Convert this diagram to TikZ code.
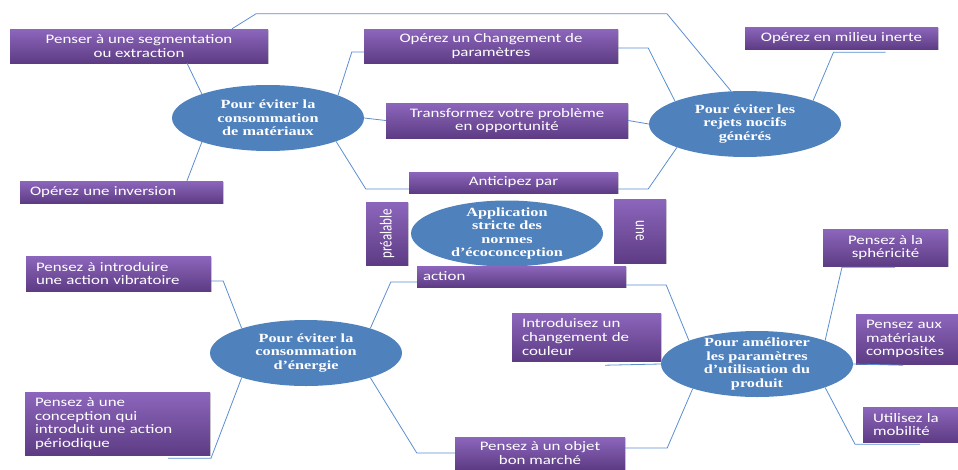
\documentclass[tikz,border=0pt]{standalone}
\usepackage{fontspec}
\usepackage{xcolor}
\usetikzlibrary{shapes.geometric, shadows}
\newfontfamily\boxfont{Carlito}[FakeStretch=1.3]
\newfontfamily\sidefont{Carlito}
\newfontfamily\themefont{Liberation Serif}[FakeStretch=1.3]
\definecolor{boxtop}{HTML}{8C66BC}
\definecolor{boxbot}{HTML}{5E3C84}
\definecolor{themeblue}{HTML}{4F81BD}
\definecolor{linkblue}{HTML}{5B8ED0}

\tikzset{
    idea/.style={rectangle, top color=boxtop, bottom color=boxbot, text=white,
        font=\boxfont\fontsize{13pt}{13.6pt}\selectfont, inner xsep=10pt, inner ysep=0pt,
        align=center, drop shadow={opacity=0.35, shadow xshift=1pt, shadow yshift=-1pt}},
    ideal/.style={idea, align=left},
    theme/.style={ellipse, fill=themeblue, text=white, minimum width=192pt, minimum height=66pt,
        inner sep=-5pt, align=center,
        font=\themefont\bfseries\fontsize{12.5pt}{13.5pt}\selectfont},
    link/.style={draw=linkblue, line width=0.8pt}
}

\begin{document}
\begin{tikzpicture}[x=1pt, y=-1pt]
\useasboundingbox (0,0) rectangle (958,469);

% ── themes ───────────────────────────────────────────────
\node[theme] (mat) at (268,118) {Pour éviter la\\consommation\\de matériaux};
\node[theme] (rej) at (745,124) {Pour éviter les\\rejets nocifs\\générés};
\node[theme] (app) at (507,233.5) {Application\\stricte des\\normes\\d’écoconception};
\node[theme] (ener) at (306,353) {Pour éviter la\\consommation\\d’énergie};
\node[theme] (util) at (757,364) {Pour améliorer\\les paramètres\\d’utilisation du\\produit};

% ── ideas, top ───────────────────────────────────────────
\node[idea, minimum width=258pt, minimum height=34pt] (seg) at (139,46) {Penser à une segmentation\\ou extraction};
\node[idea, minimum width=254pt, minimum height=34pt] (chg) at (491,46) {Opérez un Changement de\\paramètres};
\node[idea, minimum width=193pt, minimum height=22pt] (inerte) at (841.5,38) {Opérez en milieu inerte};
\node[idea, minimum width=242pt, minimum height=35pt] (transf) at (507,120.5) {Transformez votre problème\\en opportunité};
\node[ideal, text width=183pt, minimum height=22pt] (inv) at (121.5,192) {Opérez une inversion};

% ── ideas round the centre ───────────────────────────────
\node[idea, minimum width=209pt, minimum height=21pt] (antic) at (513.5,182.5) {Anticipez par};
\node[idea, minimum width=42pt, minimum height=63pt, inner xsep=0pt] (prea) at (387,233.5)
    {\rotatebox{90}{\scalebox{1}[1.3]{\sidefont préalable}}};
\node[idea, minimum width=52pt, minimum height=64pt, inner xsep=0pt] (une) at (640,231)
    {\rotatebox{-90}{\scalebox{1}[1.3]{\sidefont une}}};
\node[ideal, inner xsep=6pt, text width=197pt, minimum height=21pt] (action) at (521.5,276.5) {action};

% ── ideas, bottom ────────────────────────────────────────
\node[ideal, text width=165pt, minimum height=35pt] (vibr) at (118.5,273.5) {Pensez à introduire\\une action vibratoire};
\node[ideal, text width=165pt, minimum height=63pt] (period) at (117.5,423.5)
    {Pensez à une\\conception qui\\introduit une action\\périodique};
\node[idea, minimum width=170pt, minimum height=32pt] (objet) at (540,453) {Pensez à un objet\\bon marché};
\node[ideal, text width=129pt, minimum height=48pt] (coul) at (586.5,337) {Introduisez un\\changement de\\couleur};
\node[idea, minimum width=125pt, minimum height=37pt] (spher) at (885.5,247.5) {Pensez à la\\sphéricité};
\node[ideal, text width=82pt, minimum height=50pt] (compo) at (907,339) {Pensez aux\\matériaux\\composites};
\node[ideal, text width=75pt, minimum height=35pt] (mobil) at (910.5,424.5) {Utilisez la\\mobilité};

% ── links ────────────────────────────────────────────────
\draw[link] (mat.160) -- ([xshift=48pt]seg.south);
\draw[link] (mat.18) -- ([xshift=-12pt,yshift=-6pt]chg.west) -- ([yshift=-6pt]chg.west);
\draw[link] (mat.east) -- (transf.west);
\draw[link] (mat.-19) -- ([xshift=-43pt,yshift=-6.5pt]antic.west) -- ([yshift=-6.5pt]antic.west);
\draw[link] (mat.-160) -- ([xshift=65.5pt]inv.north);

\draw[link] ([xshift=93pt]seg.north) -- ([xshift=117pt,yshift=15pt]seg.north)
    -- ([xshift=528pt,yshift=15pt]seg.north) -- (rej.113);
\draw[link] ([yshift=-2pt]chg.east) -- ([xshift=30pt,yshift=-2pt]chg.east) -- (rej.162);
\draw[link] (transf.east) -- (rej.west);
\draw[link] ([yshift=-6.5pt]antic.east) -- ([xshift=30pt,yshift=-6.5pt]antic.east) -- (rej.-161);
\draw[link] (rej.19) -- ([xshift=-8pt,yshift=-3pt]inerte.south) -- ([xshift=44pt,yshift=-3pt]inerte.south);

\draw[link] (ener.159) -- ([xshift=12pt,yshift=-7.5pt]vibr.east) -- ([yshift=-7.5pt]vibr.east);
\draw[link] (ener.-159) -- ([xshift=93.5pt,yshift=-3pt]period.south) -- ([xshift=50.5pt,yshift=-3pt]period.south);
\draw[link] (ener.21) -- ([xshift=-26pt,yshift=-5.5pt]action.west) -- ([yshift=-5.5pt]action.west);
\draw[link] (ener.-21) -- ([xshift=-38pt]objet.west) -- (objet.west);

\draw[link] ([yshift=-8.5pt]action.east) -- ([xshift=40pt,yshift=-8.5pt]action.east) -- (util.161);
\draw[link] (util.west) -- ([xshift=18.5pt,yshift=-4pt]coul.south);
\draw[link] ([yshift=5pt]objet.east) -- ([xshift=42pt,yshift=5pt]objet.east) -- (util.-159);
\draw[link] (util.19) -- ([xshift=-43.5pt,yshift=-1pt]spher.south) -- ([xshift=9.5pt,yshift=-1pt]spher.south);
\draw[link] (util.east) -- ([xshift=-4pt,yshift=-1pt]compo.south);
\draw[link] (util.-19) -- ([xshift=-55.5pt,yshift=-2pt]mobil.south) -- ([xshift=9.5pt,yshift=-2pt]mobil.south);

\end{tikzpicture}
\end{document}
